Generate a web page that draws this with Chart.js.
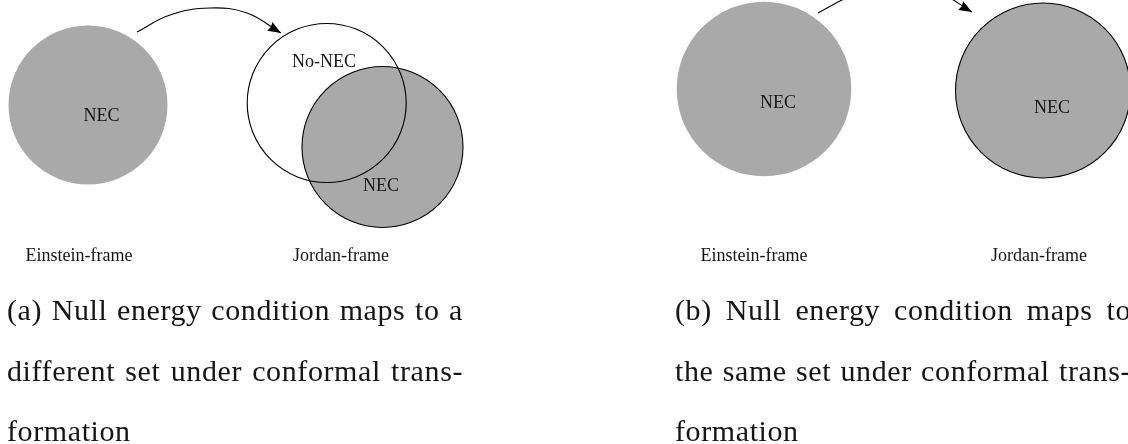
<!DOCTYPE html>
<html>
<head>
<meta charset="utf-8">
<script src="https://cdn.jsdelivr.net/npm/chart.js@4/dist/chart.umd.min.js"></script>
<style>
  html, body { margin: 0; padding: 0; background: #fff; }
  #wrap { width: 1128px; height: 444px; }
</style>
</head>
<body>
<div id="wrap"><canvas id="fig" width="1128" height="444"></canvas></div>
<script>
// sets (x, y, r) on the 1128 x 444 figure grid
const einsteinX = [88, 764];
const einsteinY = [105, 89];
const einsteinR = [79.5, 87.3];

const jordanNecX = [382.5, 1043];
const jordanNecY = [147, 90.5];
const jordanNecR = [80.5, 87.5];

const noNecX = [326.7];
const noNecY = [103];
const noNecR = [79.5];

// conformal map arrows (points read along the arcs)
const arrowAX = [137, 170, 210, 247, 281];
const arrowAY = [32, 15, 8, 13, 33];
const arrowBX = [818, 854, 897, 937, 972];
const arrowBY = [13, -5, -13, -8, 12];

// labels
const setLabels = ['NEC', 'No-NEC', 'NEC', 'NEC', 'NEC'];
const setLabelX = [101.5, 324, 381, 778, 1052];
const setLabelY = [121, 67, 191, 108, 113];

const frameLabels = ['Einstein-frame', 'Jordan-frame', 'Einstein-frame', 'Jordan-frame'];
const frameLabelX = [79, 341, 754, 1039];
const frameLabelY = 261;

const captionA = ['(a) Null energy condition maps to a', 'different set under conformal trans-', 'formation'];
const captionB = ['(b) Null energy condition maps to', 'the same set under conformal trans-', 'formation'];
const captionAX = [7, 463];
const captionBX = [675, 1131];
const captionY = [320, 381, 441];

const toPts = (xs, ys) => xs.map((v, i) => ({ x: v, y: ys[i] }));
const toCircles = (xs, ys, rs) => xs.map((v, i) => ({ x: v, y: ys[i], r: rs[i] }));

// latex-ish arrow tip at the end of flagged line datasets
const arrowPlugin = {
  id: 'arrowTip',
  afterDatasetsDraw(chart) {
    const ctx = chart.ctx;
    chart.data.datasets.forEach((ds, i) => {
      if (!ds.arrowHead) return;
      const pts = chart.getDatasetMeta(i).data;
      const p = pts[pts.length - 1];
      const q = pts[pts.length - 2];
      let dx = p.x - (p.cp1x !== undefined ? p.cp1x : q.x);
      let dy = p.y - (p.cp1y !== undefined ? p.cp1y : q.y);
      const len = Math.hypot(dx, dy);
      dx /= len; dy /= len;
      const L = 13, w = 5;
      ctx.save();
      ctx.fillStyle = '#000';
      ctx.beginPath();
      ctx.moveTo(p.x, p.y);
      ctx.lineTo(p.x - L * dx - w * dy, p.y - L * dy + w * dx);
      ctx.lineTo(p.x - L * 0.9 * dx, p.y - L * 0.9 * dy);
      ctx.lineTo(p.x - L * dx + w * dy, p.y - L * dy - w * dx);
      ctx.closePath();
      ctx.fill();
      ctx.restore();
    });
  }
};

function drawCaption(ctx, lines, xr, sx, sy) {
  const left = sx.getPixelForValue(xr[0]);
  const right = sx.getPixelForValue(xr[1]);
  lines.forEach((line, k) => {
    const yy = sy.getPixelForValue(captionY[k]);
    if (k === lines.length - 1) {
      ctx.fillText(line, left, yy);
      return;
    }
    const words = line.split(' ');
    const widths = words.map(w => ctx.measureText(w).width);
    const total = widths.reduce((a, b) => a + b, 0);
    const gap = (right - left - total) / (words.length - 1);
    let xx = left;
    words.forEach((w, j) => {
      ctx.fillText(w, xx, yy);
      xx += widths[j] + gap;
    });
  });
}

const textPlugin = {
  id: 'figText',
  afterDraw(chart) {
    const { ctx, scales: { x, y } } = chart;
    ctx.save();
    ctx.fillStyle = '#151515';
    ctx.textBaseline = 'alphabetic';
    ctx.textAlign = 'center';
    ctx.font = '18px "Liberation Serif", "Times New Roman", serif';
    setLabels.forEach((t, i) => {
      ctx.fillText(t, x.getPixelForValue(setLabelX[i]), y.getPixelForValue(setLabelY[i]));
    });
    frameLabels.forEach((t, i) => {
      ctx.fillText(t, x.getPixelForValue(frameLabelX[i]), y.getPixelForValue(frameLabelY));
    });
    ctx.textAlign = 'left';
    ctx.font = '30px "Liberation Serif", "Times New Roman", serif';
    ctx.letterSpacing = '0.6px';
    drawCaption(ctx, captionA, captionAX, x, y);
    drawCaption(ctx, captionB, captionBX, x, y);
    ctx.restore();
  }
};

new Chart(document.getElementById('fig'), {
  type: 'bubble',
  data: {
    datasets: [
      {
        type: 'line', label: 'map (a)', data: toPts(arrowAX, arrowAY),
        borderColor: '#000', borderWidth: 1.1, pointRadius: 0, tension: 0.4, fill: false,
        order: 0, arrowHead: true
      },
      {
        type: 'line', label: 'map (b)', data: toPts(arrowBX, arrowBY),
        borderColor: '#000', borderWidth: 1.1, pointRadius: 0, tension: 0.4, fill: false,
        order: 0, arrowHead: true
      },
      {
        label: 'No-NEC', data: toCircles(noNecX, noNecY, noNecR),
        backgroundColor: 'rgba(255,255,255,0)', borderColor: '#000', borderWidth: 1.1, order: 1
      },
      {
        label: 'NEC Jordan', data: toCircles(jordanNecX, jordanNecY, jordanNecR),
        backgroundColor: '#a9a9a9', borderColor: '#000', borderWidth: 1.1, order: 2
      },
      {
        label: 'NEC Einstein', data: toCircles(einsteinX, einsteinY, einsteinR),
        backgroundColor: '#a9a9a9', borderColor: '#a9a9a9', borderWidth: 0, order: 3
      }
    ]
  },
  options: {
    responsive: false,
    animation: false,
    devicePixelRatio: 1,
    events: [],
    layout: { padding: 0, autoPadding: false },
    plugins: { legend: { display: false }, tooltip: { enabled: false } },
    scales: {
      x: { type: 'linear', min: 0, max: 1128, display: false },
      y: { type: 'linear', min: 0, max: 444, reverse: true, display: false }
    }
  },
  plugins: [arrowPlugin, textPlugin]
});
</script>
</body>
</html>
